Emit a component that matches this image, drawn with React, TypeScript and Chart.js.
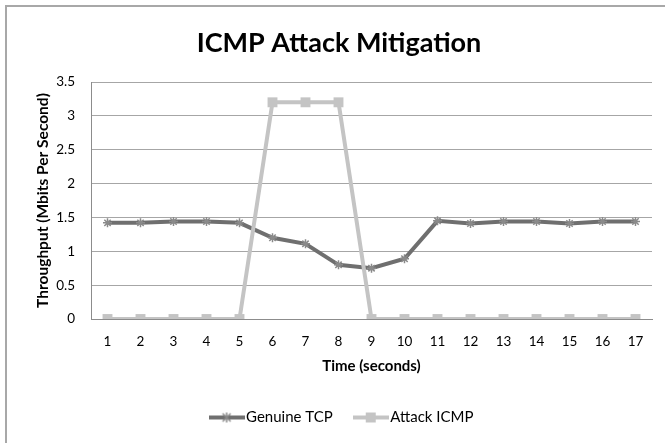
import React, { useEffect, useRef } from "react";
import { Chart, registerables } from "chart.js";

Chart.register(...registerables);

const timeLabels = ["1","2","3","4","5","6","7","8","9","10","11","12","13","14","15","16","17"];
const genuineTcp = [1.42, 1.42, 1.44, 1.44, 1.42, 1.2, 1.11, 0.8, 0.75, 0.89, 1.45, 1.41, 1.44, 1.44, 1.41, 1.44, 1.44];
const attackIcmp = [0, 0, 0, 0, 0, 3.2, 3.2, 3.2, 0, 0, 0, 0, 0, 0, 0, 0, 0];

const TCP_COLOR = "#6f6f6f";
const TCP_MARK = "#8a8a8a";
const ICMP_COLOR = "#c4c4c4";
const FONT = "Lato, 'DejaVu Sans', sans-serif";

function legendIcon(kind: "star" | "rect", line: string, mark: string) {
  const c = document.createElement("canvas");
  c.width = 36;
  c.height = 12;
  const ctx = c.getContext("2d")!;
  ctx.strokeStyle = line;
  ctx.lineWidth = 4;
  ctx.beginPath();
  ctx.moveTo(0, 6);
  ctx.lineTo(36, 6);
  ctx.stroke();
  if (kind === "rect") {
    ctx.fillStyle = mark;
    ctx.fillRect(13, 1, 10, 10);
  } else {
    ctx.strokeStyle = mark;
    ctx.lineWidth = 1.5;
    ctx.beginPath();
    ctx.moveTo(14, 2); ctx.lineTo(22, 10);
    ctx.moveTo(22, 2); ctx.lineTo(14, 10);
    ctx.moveTo(18, 1); ctx.lineTo(18, 11);
    ctx.stroke();
  }
  return c;
}

const framePlugin = {
  id: "frame",
  afterLayout(chart: any) {
    if (chart.titleBlock) {
      chart.titleBlock.left += 9;
      chart.titleBlock.right += 9;
    }
    if (chart.legend) {
      chart.legend.left += 14;
      chart.legend.right += 14;
    }
  },
  beforeDraw(chart: any) {
    const ctx = chart.ctx;
    ctx.save();
    ctx.fillStyle = "#ffffff";
    ctx.fillRect(0, 0, chart.width, chart.height);
    ctx.strokeStyle = "#a8a8a8";
    ctx.lineWidth = 2;
    ctx.beginPath();
    ctx.moveTo(6, chart.height);
    ctx.lineTo(6, 6);
    ctx.lineTo(chart.width, 6);
    ctx.stroke();
    ctx.restore();
  },
};

export default function App() {
  const ref = useRef<HTMLCanvasElement>(null);
  useEffect(() => {
    if (!ref.current) return;
    const tcpIcon = legendIcon("star", TCP_COLOR, TCP_MARK);
    const icmpIcon = legendIcon("rect", ICMP_COLOR, ICMP_COLOR);
    const chart = new Chart(ref.current, {
      type: "line",
      data: {
        labels: timeLabels,
        datasets: [
          {
            label: "Genuine TCP",
            data: genuineTcp,
            borderColor: TCP_COLOR,
            backgroundColor: TCP_MARK,
            borderWidth: 4,
            pointStyle: "star",
            pointRadius: 4.5,
            pointBorderColor: TCP_MARK,
            pointBorderWidth: 1.5,
            tension: 0,
            order: 1,
          },
          {
            label: "Attack ICMP",
            data: attackIcmp,
            borderColor: ICMP_COLOR,
            backgroundColor: ICMP_COLOR,
            borderWidth: 4,
            pointStyle: "rect",
            pointRadius: 7,
            pointBorderWidth: 0,
            pointBackgroundColor: ICMP_COLOR,
            tension: 0,
            order: 0,
          },
        ],
      },
      options: {
        responsive: false,
        animation: false,
        layout: { padding: { left: 8, right: 13, top: 0, bottom: 8 } },
        plugins: {
          title: {
            display: true,
            text: "ICMP Attack Mitigation",
            color: "#000",
            font: { family: FONT, size: 27, weight: "bold" },
            padding: { top: 27, bottom: 22.6 },
          },
          legend: {
            position: "bottom",
            labels: {
              usePointStyle: true,
              pointStyleWidth: 24,
              boxHeight: 12,
              color: "#000",
              font: { family: FONT, size: 15 },
              padding: 26,
              sort: (a: any, b: any) => a.datasetIndex - b.datasetIndex,
              generateLabels: (chart: any) =>
                chart.data.datasets.map((d: any, i: number) => ({
                  text: d.label,
                  pointStyle: i === 0 ? tcpIcon : icmpIcon,
                  datasetIndex: i,
                  fillStyle: d.borderColor,
                  strokeStyle: d.borderColor,
                  lineWidth: 0,
                  hidden: false,
                })),
            },
          },
          tooltip: { enabled: false },
        },
        scales: {
          x: {
            offset: true,
            grid: { display: false, drawTicks: false },
            border: { display: true, color: "#8c8c8c", width: 1 },
            ticks: { color: "#000", font: { family: FONT, size: 13.5 }, padding: 15 },
            title: {
              display: true,
              text: "Time (seconds)",
              color: "#000",
              font: { family: FONT, size: 15, weight: "bold" },
              padding: { top: 0, bottom: 9 },
            },
            afterFit: (s: any) => { s.height = 65; },
          },
          y: {
            min: 0,
            max: 3.5,
            ticks: {
              stepSize: 0.5,
              color: "#000",
              font: { family: FONT, size: 13.5 },
              padding: 16,
              callback: (v: any) => String(Number(v)),
            },
            grid: { color: "#a6a6a6", drawTicks: false, lineWidth: 1 },
            border: { display: true, color: "#8c8c8c", width: 1 },
            title: {
              display: true,
              text: "Throughput (Mbits Per Second)",
              color: "#000",
              font: { family: FONT, size: 15.5, weight: "bold" },
              padding: { top: 25.5, bottom: 0 },
            },
            afterFit: (s: any) => { s.width = 83; },
          },
        },
      },
      plugins: [framePlugin],
    });
    return () => chart.destroy();
  }, []);
  return (
    <div style={{ position: "absolute", left: 0, top: 0, width: 665, height: 443 }}>
      <canvas ref={ref} width={665} height={443} style={{ display: "block" }} />
    </div>
  );
}
